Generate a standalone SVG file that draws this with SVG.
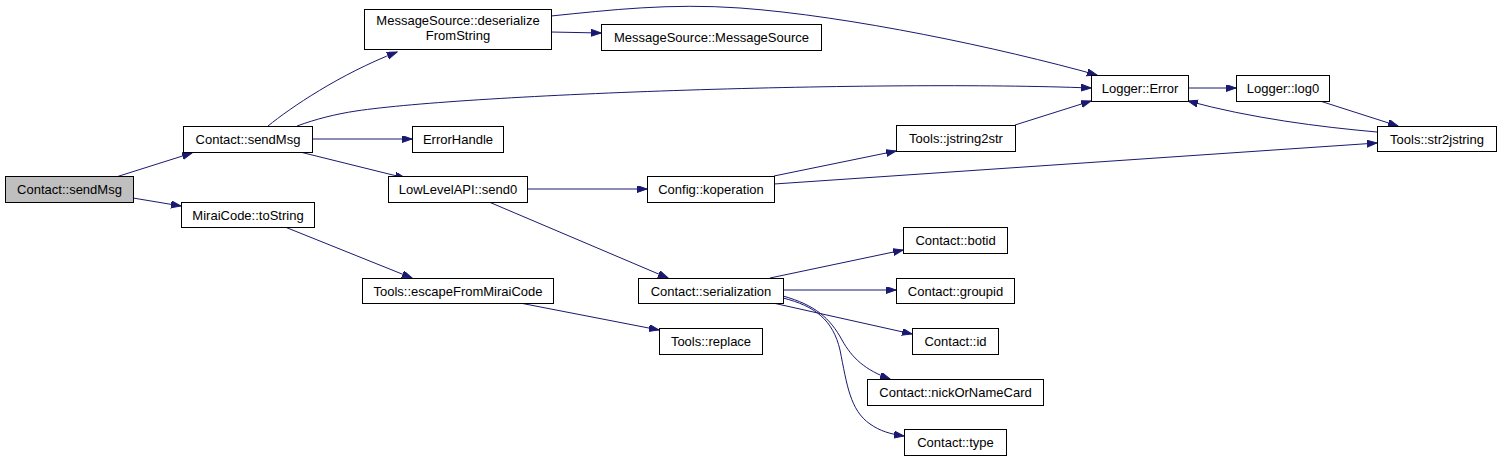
<svg xmlns="http://www.w3.org/2000/svg" width="1501" height="461" viewBox="0 0 1501 461">
<style>
.n rect{fill:#fff;stroke:#000;stroke-width:1}
.n text{font-family:"Liberation Sans",Arial,sans-serif;font-size:13px;text-anchor:middle;fill:#000}
.e path{fill:none;stroke:#191970;stroke-width:1;marker-end:url(#ah)}
</style>
<defs>
<marker id="ah" markerUnits="userSpaceOnUse" markerWidth="11" markerHeight="8" refX="10" refY="3.5" orient="auto">
<path d="M0,0 L10,3.5 L0,7 z" fill="#191970" stroke="#191970" stroke-width="1"/>
</marker>
</defs>
<rect width="1501" height="461" fill="#fff"/>
<g id="edges" class="e">
<path d="M116,177 L192,153"/>
<path d="M133,198 L181,206"/>
<path d="M268,126 C290,108 340,74 397,52"/>
<path d="M297,126 C316,119 336,114 356,111 C470,94 880,80 1091,88"/>
<path d="M312,139 L412,139"/>
<path d="M300,152 L405,178"/>
<path d="M285,227 L412,278"/>
<path d="M551,32 L601,33"/>
<path d="M551,16 C610,10 670,3 740,8 C850,16 1000,48 1097,75"/>
<path d="M527,189 L647,189"/>
<path d="M489,202 L668,278"/>
<path d="M774,176 L896,151"/>
<path d="M774,184 L1377,143"/>
<path d="M1015,125 L1091,101"/>
<path d="M1188,88 L1236,88"/>
<path d="M1320,101 L1398,126"/>
<path d="M1377,132 C1320,127 1250,118 1188,101"/>
<path d="M520,303 L659,330"/>
<path d="M770,278 L903,250"/>
<path d="M783,290 L896,290"/>
<path d="M773,303 L912,334"/>
<path d="M783,296 C815,305 830,318 842,340 C852,358 865,370 890,379"/>
<path d="M783,298 C815,306 833,320 840,350 C847,385 850,410 870,424 C880,431 890,434 904,436"/>
</g>
<g id="n_root" class="n"><rect x="5.5" y="176.5" width="128" height="26" style="fill:#bfbfbf"/><text x="69.5" y="194">Contact::sendMsg</text></g>
<g id="n_sendMsg" class="n"><rect x="183.5" y="126.5" width="129" height="26"/><text x="248" y="144">Contact::sendMsg</text></g>
<g id="n_toString" class="n"><rect x="181.5" y="202.5" width="133" height="25"/><text x="248" y="219.5">MiraiCode::toString</text></g>
<g id="n_deserialize" class="n"><rect x="364.5" y="9.5" width="187" height="40"/><text x="458" y="25">MessageSource::deserialize</text><text x="458" y="40">FromString</text></g>
<g id="n_msgsrc" class="n"><rect x="601.5" y="24.5" width="220" height="26"/><text x="711.5" y="42">MessageSource::MessageSource</text></g>
<g id="n_errhandle" class="n"><rect x="412.5" y="126.5" width="91" height="26"/><text x="458" y="144">ErrorHandle</text></g>
<g id="n_send0" class="n"><rect x="388.5" y="176.5" width="139" height="26"/><text x="458" y="194">LowLevelAPI::send0</text></g>
<g id="n_koperation" class="n"><rect x="647.5" y="176.5" width="127" height="26"/><text x="711" y="194">Config::koperation</text></g>
<g id="n_loggerError" class="n"><rect x="1091.5" y="75.5" width="97" height="26"/><text x="1140" y="93">Logger::Error</text></g>
<g id="n_log0" class="n"><rect x="1236.5" y="75.5" width="93" height="26"/><text x="1283" y="93">Logger::log0</text></g>
<g id="n_str2jstring" class="n"><rect x="1377.5" y="126.5" width="119" height="25"/><text x="1437" y="143.5">Tools::str2jstring</text></g>
<g id="n_jstring2str" class="n"><rect x="896.5" y="125.5" width="119" height="26"/><text x="956" y="143">Tools::jstring2str</text></g>
<g id="n_escape" class="n"><rect x="362.5" y="278.5" width="191" height="25"/><text x="458" y="295.5">Tools::escapeFromMiraiCode</text></g>
<g id="n_serialization" class="n"><rect x="638.5" y="278.5" width="145" height="25"/><text x="711" y="295.5">Contact::serialization</text></g>
<g id="n_replace" class="n"><rect x="659.5" y="328.5" width="103" height="26"/><text x="711" y="346">Tools::replace</text></g>
<g id="n_botid" class="n"><rect x="903.5" y="227.5" width="104" height="26"/><text x="955.5" y="245">Contact::botid</text></g>
<g id="n_groupid" class="n"><rect x="896.5" y="278.5" width="118" height="25"/><text x="955.5" y="295.5">Contact::groupid</text></g>
<g id="n_id" class="n"><rect x="912.5" y="328.5" width="86" height="26"/><text x="955.5" y="346">Contact::id</text></g>
<g id="n_nick" class="n"><rect x="867.5" y="379.5" width="176" height="26"/><text x="955.5" y="397">Contact::nickOrNameCard</text></g>
<g id="n_type" class="n"><rect x="904.5" y="429.5" width="102" height="26"/><text x="955.5" y="447">Contact::type</text></g>
</svg>
